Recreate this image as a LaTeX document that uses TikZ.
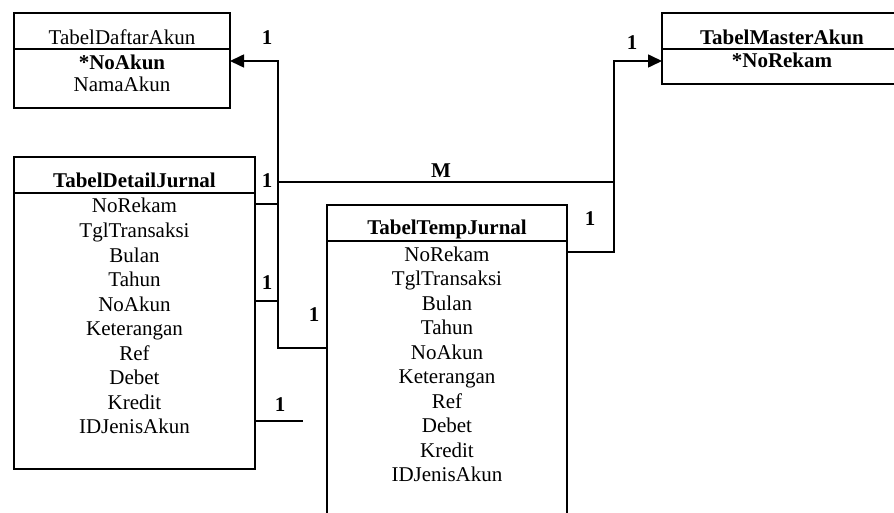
\documentclass[tikz,border=0pt]{standalone}
\usepackage{fontspec}
\setmainfont{Liberation Serif}
\usetikzlibrary{arrows.meta}
\newcommand\rowfont{\fontsize{21}{24}\selectfont}
\begin{document}
\begin{tikzpicture}[x=1pt,y=-1pt,
  tbl/.style={draw, line width=1.6pt, anchor=north west, inner sep=0pt, outer sep=0pt},
  sep/.style={line width=1.6pt},
  conn/.style={line width=1.6pt},
  arr/.style={conn, -{Triangle[length=14pt,width=13pt]}},
  row/.style={anchor=base, inner sep=0pt, font=\rowfont},
  card/.style={anchor=center, inner sep=0pt, font=\rowfont\bfseries}]
\useasboundingbox (0,0) rectangle (894,513);
\clip (0,0) rectangle (894,513);

% TabelDaftarAkun
\node[tbl, minimum width=216pt, minimum height=95pt] (da) at (14,13) {};
\draw[sep] (da.west |- 0,49) -- (da.east |- 0,49);
\node[row] (daT) at (122,45) {TabelDaftarAkun};
\node[row, font=\rowfont\bfseries] (da1) at (122,70) {*NoAkun};
\node[row] (da2) at (122,92) {NamaAkun};

% TabelMasterAkun
\node[tbl, minimum width=241pt, minimum height=71pt] (ma) at (662,13) {};
\draw[sep] (ma.west |- 0,49) -- (ma.east |- 0,49);
\node[row, font=\rowfont\bfseries] (maT) at (782,45) {TabelMasterAkun};
\node[row, font=\rowfont\bfseries] (ma1) at (782,68) {*NoRekam};

% TabelDetailJurnal
\node[tbl, minimum width=241pt, minimum height=312pt] (dj) at (14,157) {};
\draw[sep] (dj.west |- 0,193) -- (dj.east |- 0,193);
\node[row, font=\rowfont\bfseries] (djT) at (134.5,188) {TabelDetailJurnal};
\foreach \t [count=\i from 0] in {NoRekam,TglTransaksi,Bulan,Tahun,NoAkun,Keterangan,Ref,Debet,Kredit,IDJenisAkun}
  \node[row] (dj\i) at (134.5,213+24.5*\i) {\t};

% TabelTempJurnal
\node[tbl, minimum width=240pt, minimum height=330pt] (tj) at (327,205) {};
\draw[sep] (tj.west |- 0,241) -- (tj.east |- 0,241);
\node[row, font=\rowfont\bfseries] (tjT) at (447,235) {TabelTempJurnal};
\foreach \t [count=\i from 0] in {NoRekam,TglTransaksi,Bulan,Tahun,NoAkun,Keterangan,Ref,Debet,Kredit,IDJenisAkun}
  \node[row] (tj\i) at (447,261+24.5*\i) {\t};

% connectors
\draw[arr] (tj.west |- 0,348) -- (278,348) -- (278,61) -- (da.east |- 0,61);
\draw[arr] (dj.east |- 0,204) -- (278,204) -- (278,182) -- (614,182) -- (614,61) -- (ma.west |- 0,61);
\draw[conn] (tj.east |- 0,252) -- (614,252) -- (614,182);
\draw[conn] (dj.east |- 0,301) -- (278,301);
\coordinate (freeEnd) at (303,421);
\draw[conn] (dj.east |- freeEnd) -- (freeEnd);

% cardinality labels
\node[card] (l1) at (267,38) {1};
\node[card] (l2) at (632,43) {1};
\node[card] (l3) at (267,181) {1};
\node[card] (l4) at (441,171) {M};
\node[card] (l5) at (590,219) {1};
\node[card] (l6) at (267,283) {1};
\node[card] (l7) at (314,315) {1};
\node[card] (l8) at (280,405) {1};
\end{tikzpicture}
\end{document}
